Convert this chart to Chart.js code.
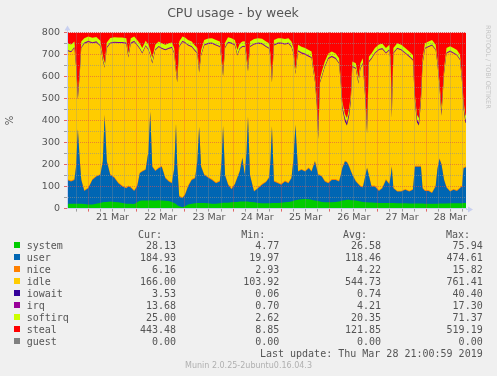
<!DOCTYPE html>
<html><head><meta charset="utf-8">
<script src="https://cdn.jsdelivr.net/npm/chart.js@4"></script>
<style>
html,body{margin:0;padding:0;background:#F0F0F0;}
#wrap{position:relative;width:497px;height:376px;overflow:hidden;background:#F0F0F0;}
canvas{position:absolute;left:0;top:0;}
.t{position:absolute;white-space:pre;font-family:'DejaVu Sans Mono',monospace;font-size:10px;line-height:12px;color:#555;}
.r{text-align:right;}
.sq{position:absolute;width:6px;height:6px;}
#rrd{position:absolute;left:484px;top:25px;writing-mode:vertical-rl;font-family:'DejaVu Sans',sans-serif;font-size:6.5px;line-height:8px;color:#c4c4c4;white-space:nowrap;}
#ver{position:absolute;left:0;width:497px;text-align:center;top:359.5px;font-family:'DejaVu Sans',sans-serif;font-size:8px;line-height:12px;color:#b0b0b0;}
</style></head>
<body><div id="wrap"><canvas id="c" width="497" height="376"></canvas><div id="rrd">RRDTOOL / TOBI OETIKER</div><div id="ver">Munin 2.0.25-2ubuntu0.16.04.3</div></div>
<script>
// time axis in hours since 20 Mar 00:00
const hours = [13.4,15.4,17.1,17.9,18.8,19.8,20.5,22.0,24.0,26.0,
28.0,30.0,31.2,32.1,33.2,34.9,36.9,38.9,40.9,42.9,
43.9,45.1,46.8,48.3,49.6,50.8,52.5,53.9,54.8,55.8,
57.3,59.0,60.5,62.3,64.0,65.5,66.7,67.6,68.2,69.2,
70.8,72.1,73.6,75.4,77.1,78.2,79.1,80.1,81.6,83.6,
85.5,87.5,89.4,90.3,91.0,92.0,93.5,95.2,96.9,98.1,
99.3,100.6,101.8,102.7,103.4,104.4,106.4,108.4,110.4,112.4,
113.9,114.6,115.3,116.3,118.3,119.9,121.8,123.5,125.0,126.0,
127.0,128.3,130.0,131.8,133.6,135.0,135.8,136.7,137.6,138.3,
139.2,140.1,141.6,143.3,145.1,147.0,148.7,149.5,150.3,151.6,
152.6,153.7,154.5,155.3,157.0,158.3,159.3,160.5,161.8,162.6,
163.5,164.8,166.5,168.5,170.2,172.0,173.7,174.4,174.9,175.7,
177.6,179.6,181.6,183.6,185.4,186.4,187.4,188.4,189.4,190.2,
191.4,193.2,194.9,196.7,197.6,198.6,199.6,200.9,202.1,203.9,
205.6,207.3,208.8,209.8,210.6,211.5,212.2];

const system = [22,22,22,22,22,22,22,20,18,18,
22,25,28,30,30,32,30,28,25,22,
22,22,20,28,35,36,36,36,38,36,
36,38,36,35,34,30,25,20,15,10,
6,10,18,22,24,25,25,25,25,24,
22,22,24,25,26,26,26,28,30,30,
32,32,32,32,32,30,28,25,24,24,
24,24,25,25,25,26,28,30,32,35,
38,40,42,43,42,40,38,36,35,34,
32,30,28,28,28,30,32,34,36,38,
40,40,38,38,36,34,32,30,28,28,
27,27,26,25,25,25,25,25,25,25,
24,24,24,23,23,23,23,23,23,23,
22,22,22,22,22,23,23,23,23,24,
24,24,24,24,25,25,26];

const user = [108,101,108,168,338,192,108,60,74,112,
123,128,186,395,184,121,110,87,75,70,
78,73,60,72,125,132,140,224,402,154,
134,145,154,103,89,85,155,365,185,45,
41,52,82,108,114,189,345,165,128,116,
108,93,99,195,349,124,82,60,80,110,
136,197,121,228,386,120,49,67,84,96,
116,196,348,98,90,82,95,85,106,185,
342,128,134,125,141,128,152,178,145,119,
118,115,95,87,102,100,91,116,147,176,
170,150,132,115,87,76,68,65,122,156,
123,73,74,55,67,105,85,125,165,67,
53,53,61,54,62,167,167,167,167,69,
58,58,48,78,158,202,177,107,72,53,
61,56,68,76,158,161,164];

const nice = [4,4,4,4,4,4,4,4,4,4,
4,4,4,4,4,4,4,4,4,4,
4,4,4,4,4,4,4,4,4,4,
4,4,4,4,4,4,4,4,4,4,
4,4,4,4,4,4,4,4,4,4,
4,4,4,4,4,4,4,4,4,4,
4,4,4,4,4,4,4,4,4,4,
4,4,4,4,4,4,4,4,4,4,
4,4,4,4,4,4,4,4,4,4,
4,4,4,4,4,4,4,4,4,4,
4,4,4,4,4,4,4,4,4,4,
4,4,4,4,4,4,4,4,4,4,
4,4,4,4,4,4,4,4,4,4,
4,4,4,4,4,4,4,4,4,4,
4,4,4,4,4,4,4];

const idle = [583,583,595,450,132,400,595,665,661,617,
606,580,455,211,512,593,609,633,648,653,
582,650,673,637,561,532,557,456,251,465,
545,547,532,577,599,611,520,228,369,675,
706,686,637,600,573,486,244,501,584,604,
615,622,607,443,221,576,641,657,627,551,
553,501,578,413,201,580,664,653,635,610,
582,453,196,614,630,637,618,630,592,480,
226,542,525,527,503,512,434,357,287,159,
418,449,516,561,555,546,531,413,265,178,
163,228,309,486,508,453,531,559,329,153,
511,576,600,636,628,570,605,489,218,608,
645,638,615,608,584,289,198,183,289,559,
642,650,667,616,471,326,218,479,605,632,
615,611,579,471,265,202,187];

const iowait = [1,1,1,1,6,1,1,1,1,1,
1,1,1,1,1,1,1,1,1,1,
1,1,1,1,1,1,1,1,1,1,
1,1,1,1,1,1,1,1,1,1,
1,1,1,1,1,1,1,1,1,1,
1,1,1,1,1,1,1,1,1,1,
1,1,1,1,1,1,1,1,1,1,
1,1,1,1,1,1,1,1,1,1,
1,1,1,1,1,1,1,1,6,6,
1,1,1,1,1,1,1,1,6,6,
6,6,6,1,1,1,1,1,6,6,
1,1,1,1,1,1,1,1,6,1,
1,1,1,1,1,6,6,6,6,1,
1,1,1,1,1,1,6,1,1,1,
1,1,1,1,6,6,6];

const irq = [4,4,4,4,8,4,4,4,4,4,
4,4,4,4,4,4,4,4,4,4,
4,4,4,4,4,4,4,4,4,4,
4,4,4,4,4,4,4,4,4,4,
4,4,4,4,4,4,4,4,4,4,
4,4,4,4,4,4,4,4,4,4,
4,4,4,4,4,4,4,4,4,4,
4,4,4,4,4,4,4,4,4,4,
4,4,4,4,4,4,4,4,8,8,
4,4,4,4,4,4,4,4,8,8,
8,8,8,4,4,4,4,4,8,8,
4,4,4,4,4,4,4,4,8,4,
4,4,4,4,4,8,8,8,8,4,
4,4,4,4,4,4,8,4,4,4,
4,4,4,4,8,8,8];

const softirq = [30,30,25,20,10,15,25,20,20,20,
20,20,20,15,20,20,20,20,20,20,
15,20,20,20,20,20,20,20,20,20,
20,20,20,20,20,20,20,18,15,20,
20,20,20,20,20,20,15,20,20,20,
20,20,20,18,15,20,20,20,20,20,
20,20,20,18,15,20,20,20,20,20,
20,18,15,20,20,20,20,20,20,20,
15,25,25,25,25,25,20,20,15,10,
15,20,20,20,20,20,20,20,20,20,
20,20,20,20,20,20,20,20,20,15,
20,20,20,20,20,20,20,20,15,20,
20,20,20,20,20,20,20,20,20,20,
20,20,20,20,20,20,20,20,20,20,
20,20,20,20,20,20,20];

const steal = [48,55,41,131,280,162,41,26,18,24,
20,38,102,140,45,25,22,23,23,26,
94,26,18,34,50,71,38,55,80,116,
56,41,49,56,49,45,71,160,207,41,
18,23,34,41,60,71,162,80,34,27,
26,34,41,110,180,45,22,26,34,80,
50,41,40,100,157,41,30,26,28,41,
49,100,207,34,26,26,30,26,41,71,
170,56,65,71,80,86,147,200,300,460,
208,177,132,95,86,95,117,208,314,370,
389,344,283,132,140,208,140,117,283,430,
110,95,71,55,51,71,56,132,359,71,
49,56,71,86,102,283,374,389,283,120,
49,41,34,55,120,220,344,162,71,62,
71,80,100,200,314,374,385];

const xTickHours = [18,24,30,36,42,48,54,60,66,72,78,84,90,96,102,108,114,120,126,132,138,144,150,156,162,168,174,180,186,192,198,204,210];
const dayLabelHours = [36,60,84,108,132,156,180,204];
const dayLabels = ['21 Mar','22 Mar','23 Mar','24 Mar','25 Mar','26 Mar','27 Mar','28 Mar'];
const yTicks = [0,50,100,150,200,250,300,350,400,450,500,550,600,650,700,750,800];

const seriesNames = ['system','user','nice','idle','iowait','irq','softirq','steal','guest'];
const seriesColors = ['#00CC00','#0066B3','#FF8000','#FFCC00','#330099','#990099','#CCFF00','#FF0000','#808080'];
const curVals = ['28.13','184.93','6.16','166.00','3.53','13.68','25.00','443.48','0.00'];
const minVals = ['4.77','19.97','2.93','103.92','0.06','0.70','2.62','8.85','0.00'];
const avgVals = ['26.58','118.46','4.22','544.73','0.74','4.21','20.35','121.85','0.00'];
const maxVals = ['75.94','474.61','15.82','761.41','40.40','17.30','71.37','519.19','0.00'];
const lastUpdate = 'Last update: Thu Mar 28 21:00:59 2019';

// ---- legend (HTML text) ----
const wrap = document.getElementById('wrap');
function addText(txt, top, left, right){
  const d = document.createElement('div');
  d.className = 't' + (right!=null ? ' r' : '');
  d.textContent = txt;
  d.style.top = top + 'px';
  if (left!=null) d.style.left = left + 'px';
  if (right!=null) d.style.right = (497 - right) + 'px';
  wrap.appendChild(d);
}
const headTop = 229.2;
addText('Cur:', headTop, null, 162);
addText('Min:', headTop, null, 265.3);
addText('Avg:', headTop, null, 367);
addText('Max:', headTop, null, 470);
seriesNames.forEach((n,i)=>{
  const top = 239.8 + 12*i;
  const sq = document.createElement('div');
  sq.className='sq'; sq.style.left='14px'; sq.style.top=(top+2.3)+'px'; sq.style.background=seriesColors[i];
  wrap.appendChild(sq);
  addText(n, top, 26.7, null);
  addText(curVals[i], top, null, 176);
  addText(minVals[i], top, null, 279.3);
  addText(avgVals[i], top, null, 381);
  addText(maxVals[i], top, null, 482.7);
});
addText(lastUpdate, 348.2, null, 482.7);

// ---- chart ----
const seriesData = [system,user,nice,idle,iowait,irq,softirq,steal];
const datasets = seriesData.map((arr,k)=>({
  label: seriesNames[k],
  data: arr.map((v,i)=>({x:hours[i], y:v})),
  backgroundColor: seriesColors[k],
  borderColor: seriesColors[k],
  borderWidth: 0,
  pointRadius: 0,
  fill: 'origin',
  tension: 0
}));

const MAJOR = 'rgba(222,79,79,0.6)';
const MINOR = 'rgba(143,143,143,0.6)';
const AXIS = '#C8D0F0';

const overlay = {
  id: 'overlay',
  afterDatasetsDraw(chart){
    const ca = chart.chartArea, ctx = chart.ctx;
    ctx.save();
    chart.scales.x.drawGrid(ca);
    chart.scales.y.drawGrid(ca);
    chart.scales.x.drawBorder();
    chart.scales.y.drawBorder();
    ctx.strokeStyle = AXIS; ctx.lineWidth = 1;
    ctx.beginPath(); ctx.moveTo(ca.right, Math.round(ca.bottom)+0.5); ctx.lineTo(ca.right+3, Math.round(ca.bottom)+0.5); ctx.stroke();
    ctx.beginPath(); ctx.moveTo(Math.round(ca.left)+0.5, ca.top); ctx.lineTo(Math.round(ca.left)+0.5, ca.top-3); ctx.stroke();
    ctx.fillStyle = AXIS;
    const by = Math.round(ca.bottom)+0.5, lx = Math.round(ca.left)+0.5;
    ctx.beginPath(); ctx.moveTo(ca.right+2, by-3); ctx.lineTo(ca.right+7, by); ctx.lineTo(ca.right+2, by+3); ctx.closePath(); ctx.fill();
    ctx.beginPath(); ctx.moveTo(lx-3, ca.top-2); ctx.lineTo(lx, ca.top-7); ctx.lineTo(lx+3, ca.top-2); ctx.closePath(); ctx.fill();
    ctx.restore();
  }
};

new Chart(document.getElementById('c'), {
  type: 'line',
  data: { datasets },
  plugins: [overlay],
  options: {
    responsive: false, animation: false, devicePixelRatio: 1,
    layout: { padding: { left: 0, right: 31, top: 0, bottom: 147.5 } },
    plugins: {
      legend: { display: false },
      tooltip: { enabled: false },
      title: { display: true, text: 'CPU usage - by week', color: '#555',
        font: { family: 'DejaVu Sans', size: 12.5, weight: 'normal', lineHeight: 1.2 },
        padding: { top: 5.8, bottom: 11.7 } }
    },
    scales: {
      x: {
        type: 'linear', min: 13.4, max: 211.8,
        afterBuildTicks: s => { s.ticks = xTickHours.map(v => ({ value: v })); },
        afterFit: s => { s.height = 20; },
        ticks: { autoSkip: false, maxRotation: 0, padding: 0, color: '#555',
          font: { family: 'DejaVu Sans', size: 9.5 },
          callback: v => { const i = dayLabelHours.indexOf(v); return i >= 0 ? dayLabels[i] : ''; } },
        grid: { lineWidth: 1, tickLength: 3, drawTicks: true,
          color: c => (c.tick && c.tick.value % 24 === 0) ? MAJOR : MINOR,
          tickColor: c => (c.tick && c.tick.value % 24 === 0) ? MAJOR : MINOR },
        border: { color: AXIS, width: 1, dash: [1, 1] }
      },
      y: {
        stacked: true, min: 0, max: 800,
        afterBuildTicks: s => { s.ticks = yTicks.map(v => ({ value: v })); },
        afterFit: s => { s.width = 67; },
        ticks: { autoSkip: false, padding: 4, color: '#555',
          font: { family: 'DejaVu Sans', size: 9.5 },
          callback: v => (v % 100 === 0) ? String(v) : '' },
        grid: { lineWidth: 1, tickLength: 3, drawTicks: true,
          color: c => (c.tick && c.tick.value % 100 === 0) ? MAJOR : MINOR,
          tickColor: c => (c.tick && c.tick.value % 100 === 0) ? MAJOR : MINOR },
        border: { color: AXIS, width: 1, dash: [1, 1] },
        title: { display: true, text: '%', color: '#555',
          font: { family: 'DejaVu Sans', size: 10, lineHeight: 1.2 }, padding: { top: 4, bottom: 0 } }
      }
    }
  }
});
</script>
</body></html>
